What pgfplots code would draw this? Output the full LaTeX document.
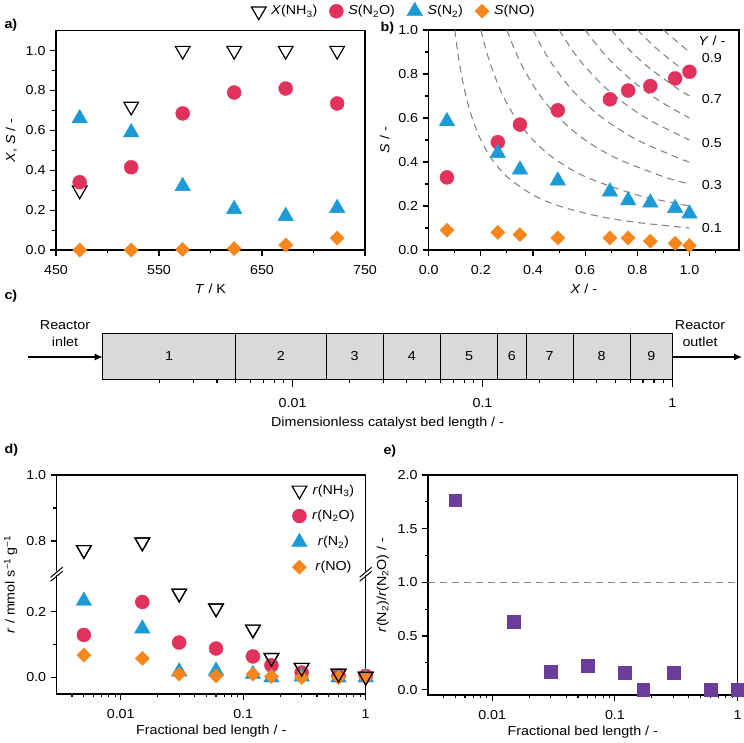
\documentclass[border=0pt]{standalone}
\usepackage{pgfplots}
\pgfplotsset{compat=1.18}
\usepackage{fontspec}
\setmainfont[FakeStretch=1.1]{Liberation Sans}
\usetikzlibrary{arrows.meta}

\definecolor{cNtwoO}{HTML}{E0325A}
\definecolor{cNtwo}{HTML}{1C9AD6}
\definecolor{cNO}{HTML}{F7861D}
\definecolor{cratio}{HTML}{6A3D9A}
\definecolor{bedgray}{HTML}{D9D9D9}
\definecolor{isogray}{HTML}{858585}

\newcommand{\fs}{\fontsize{13}{15}\selectfont}

\pgfplotsset{
  panel/.style={
    scale only axis, clip=false, anchor=south west,
    axis line style={line width=1.1pt},
    tick align=outside, tick pos=left,
    major tick length=6pt, minor tick length=3.5pt,
    tick style={black, line width=1.1pt},
    /pgf/number format/assume math mode=true,
    tick label style={font=\fs},
    xticklabel style={yshift=-5pt},
    label style={font=\fs},
    legend style={font=\fs, draw=none, fill=none},
  },
  onedec/.style={/pgf/number format/.cd, fixed, fixed zerofill, precision=1},
  mNHthree/.style={only marks, mark=triangle, mark size=8.5pt,
    mark options={rotate=180, draw=black, line width=1.2pt, fill=none}},
  mNtwoO/.style={only marks, mark=*, mark size=7pt,
    mark options={draw=cNtwoO, fill=cNtwoO}},
  mNtwo/.style={only marks, mark=triangle*, mark size=9pt,
    mark options={draw=cNtwo, fill=cNtwo}},
  mNO/.style={only marks, mark=square*, mark size=5pt,
    mark options={rotate=45, draw=cNO, fill=cNO}},
  iso/.style={isogray, line width=1.1pt, dash pattern=on 7pt off 5pt, smooth},
}

\begin{document}
\fs
\begin{tikzpicture}
\useasboundingbox (0pt,0pt) rectangle (744pt,743pt);

% ---------------- a) conversion and selectivity vs temperature
\begin{axis}[panel, at={(56pt,493pt)}, width=309pt, height=219.3pt,
  xmin=450, xmax=750, ymin=0, ymax=1.1,
  xtick={450,550,650,750}, minor xtick={500,600,700},
  ytick={0,0.2,0.4,0.6,0.8,1.0}, minor ytick={0.1,0.3,0.5,0.7,0.9},
  yticklabel style={onedec},
  xlabel={\textit{T} / K}, ylabel={\textit{X}, \textit{S} / -},
  legend columns=4,
  legend style={at={(1.094,1.09)}, anchor=center,
    /tikz/every odd column/.append style={column sep=3pt},
    /tikz/every even column/.append style={column sep=10pt}},
]
\addplot[mNHthree] coordinates {(473,0.30) (523,0.72) (573,1.0) (623,1.0) (673,1.0) (723,1.0)};
\addlegendentry{\textit{X}(NH\textsubscript{3})}
\addplot[mNtwoO] coordinates {(473,0.34) (523,0.415) (573,0.685) (623,0.79) (673,0.81) (723,0.735)};
\addlegendentry{\textit{S}(N\textsubscript{2}O)}
\addplot[mNtwo] coordinates {(473,0.66) (523,0.59) (573,0.32) (623,0.205) (673,0.17) (723,0.21)};
\addlegendentry{\textit{S}(N\textsubscript{2})}
\addplot[mNO] coordinates {(473,0.0) (523,0.0) (573,0.003) (623,0.007) (673,0.025) (723,0.06)};
\addlegendentry{\textit{S}(NO)}
\end{axis}

% ---------------- b) selectivity vs conversion with iso-yield lines
\begin{axis}[panel, at={(428.7pt,493pt)}, width=310.3pt, height=220pt,
  xmin=0, xmax=1.19, ymin=0, ymax=1,
  xtick={0,0.2,0.4,0.6,0.8,1.0}, minor xtick={0.1,0.3,0.5,0.7,0.9,1.1},
  ytick={0,0.2,0.4,0.6,0.8,1.0}, minor ytick={0.1,0.3,0.5,0.7,0.9},
  xticklabel style={onedec}, yticklabel style={onedec},
  xlabel={\textit{X} / -}, ylabel={\textit{S} / -},
]
% iso-yield lines Y = X S
\addplot[iso] coordinates {(0.1,1) (0.11,0.9091) (0.12,0.8333) (0.135,0.7407) (0.15,0.6667) (0.17,0.5882) (0.2,0.5) (0.24,0.4167) (0.3,0.3333) (0.4,0.25) (0.5,0.2) (0.65,0.1538) (0.8,0.125) (1.0,0.1)};
\addplot[iso] coordinates {(0.2,1) (0.22,0.9091) (0.24,0.8333) (0.27,0.7407) (0.3,0.6667) (0.34,0.5882) (0.4,0.5) (0.48,0.4167) (0.6,0.3333) (0.8,0.25) (1.0,0.2)};
\addplot[iso] coordinates {(0.3,1) (0.33,0.9091) (0.36,0.8333) (0.405,0.7407) (0.45,0.6667) (0.51,0.5882) (0.6,0.5) (0.72,0.4167) (0.9,0.3333) (1.0,0.3)};
\addplot[iso] coordinates {(0.4,1) (0.44,0.9091) (0.48,0.8333) (0.54,0.7407) (0.6,0.6667) (0.68,0.5882) (0.8,0.5) (0.96,0.4167) (1.0,0.4)};
\addplot[iso] coordinates {(0.5,1) (0.55,0.9091) (0.6,0.8333) (0.675,0.7407) (0.75,0.6667) (0.85,0.5882) (1.0,0.5)};
\addplot[iso] coordinates {(0.6,1) (0.66,0.9091) (0.72,0.8333) (0.81,0.7407) (0.9,0.6667) (1.0,0.6)};
\addplot[iso] coordinates {(0.7,1) (0.77,0.9091) (0.84,0.8333) (0.945,0.7407) (1.0,0.7)};
\addplot[iso] coordinates {(0.8,1) (0.88,0.9091) (0.96,0.8333) (1.0,0.8)};
\addplot[iso] coordinates {(0.9,1) (0.99,0.9091) (1.0,0.9)};
\addplot[mNtwoO] coordinates {(0.07,0.33) (0.265,0.49) (0.35,0.57) (0.495,0.635) (0.695,0.685) (0.765,0.725) (0.85,0.745) (0.945,0.78) (1.0,0.81)};
\addplot[mNtwo] coordinates {(0.07,0.585) (0.265,0.44) (0.35,0.365) (0.495,0.315) (0.695,0.265) (0.765,0.225) (0.85,0.215) (0.945,0.19) (1.0,0.165)};
\addplot[mNO] coordinates {(0.07,0.09) (0.265,0.08) (0.35,0.07) (0.495,0.055) (0.695,0.055) (0.765,0.055) (0.85,0.04) (0.945,0.03) (1.0,0.02)};
\node[font=\fs] at (axis cs:1.086,0.951) {\textit{Y} / -};
\node[font=\fs] at (axis cs:1.086,0.871) {0.9};
\node[font=\fs] at (axis cs:1.086,0.686) {0.7};
\node[font=\fs] at (axis cs:1.086,0.488) {0.5};
\node[font=\fs] at (axis cs:1.086,0.295) {0.3};
\node[font=\fs] at (axis cs:1.086,0.099) {0.1};
\end{axis}

% ---------------- c) catalyst bed segments
\begin{axis}[at={(102.7pt,363.7pt)}, anchor=south west, scale only axis,
  width=569.7pt, height=46pt, xmode=log, xmin=0.001, xmax=1, ymin=0, ymax=1,
  axis y line=none, axis x line*=bottom, clip=false,
  axis line style={line width=1.1pt},
  tick align=outside, major tick length=8pt, minor tick length=4pt,
  tick style={black, line width=1.1pt},
  xtick={0.01,0.1,1}, xticklabels={0.01,0.1,1},
  minor xtick={0.002,0.003,0.004,0.005,0.006,0.007,0.008,0.009,0.02,0.03,0.04,0.05,0.06,0.07,0.08,0.09,0.2,0.3,0.4,0.5,0.6,0.7,0.8,0.9},
  tick label style={font=\fs}, xticklabel style={yshift=-7pt},
  label style={font=\fs},
  xlabel={Dimensionless catalyst bed length / -},
]
\addplot[fill=bedgray, draw=black, line width=1.1pt] coordinates {(0.001,0) (1,0) (1,1) (0.001,1)} -- cycle;
\addplot[black, line width=0.9pt] coordinates {(0.005,0) (0.005,1)};
\addplot[black, line width=0.9pt] coordinates {(0.015,0) (0.015,1)};
\addplot[black, line width=0.9pt] coordinates {(0.03,0) (0.03,1)};
\addplot[black, line width=0.9pt] coordinates {(0.06,0) (0.06,1)};
\addplot[black, line width=0.9pt] coordinates {(0.12,0) (0.12,1)};
\addplot[black, line width=0.9pt] coordinates {(0.17,0) (0.17,1)};
\addplot[black, line width=0.9pt] coordinates {(0.3,0) (0.3,1)};
\addplot[black, line width=0.9pt] coordinates {(0.6,0) (0.6,1)};
\node at (axis cs:0.00224,0.5) {1};
\node at (axis cs:0.00866,0.5) {2};
\node at (axis cs:0.0212,0.5) {3};
\node at (axis cs:0.0424,0.5) {4};
\node at (axis cs:0.0849,0.5) {5};
\node at (axis cs:0.1428,0.5) {6};
\node at (axis cs:0.2258,0.5) {7};
\node at (axis cs:0.4243,0.5) {8};
\node at (axis cs:0.7746,0.5) {9};
\end{axis}
\draw[-{Latex[length=8pt,width=7pt]}, line width=1.1pt] (27.7pt,386pt) -- (102.7pt,386pt);
\draw[-{Latex[length=8pt,width=7pt]}, line width=1.1pt] (672.4pt,386pt) -- (742pt,386pt);
\node[align=center, font=\fontsize{13}{16.7}\selectfont] at (65pt,409.7pt) {Reactor\\inlet};
\node[align=center, font=\fontsize{13}{16.7}\selectfont] at (700pt,409.7pt) {Reactor\\outlet};

% ---------------- d) rates along the bed (broken y axis)
\begin{axis}[panel, at={(56.7pt,49pt)}, width=309pt, height=219pt,
  xmode=log, xmin=0.003, xmax=1, ymin=-0.05, ymax=0.614,
  y filter/.expression={y>0.5 ? y-0.386 : y},
  xtick={0.01,0.1,1}, xticklabels={0.01,0.1,1},
  minor xtick={0.004,0.005,0.006,0.007,0.008,0.009,0.02,0.03,0.04,0.05,0.06,0.07,0.08,0.09,0.2,0.3,0.4,0.5,0.6,0.7,0.8,0.9},
  ytick={0,0.2,0.414,0.614}, yticklabels={0.0,0.2,0.8,1.0},
  minor ytick={0.1,0.514},
  xlabel={Fractional bed length / -}, xlabel style={yshift=3pt},
  ylabel={\textit{r} / mmol s\textsuperscript{−1}\,g\textsuperscript{−1}},
  legend style={at={(0.75,0.975)}, anchor=north west, row sep=9.5pt,
    /tikz/every odd column/.append style={column sep=3pt}},
]
\addplot[mNHthree] coordinates {(0.005,0.773) (0.015,0.796) (0.03,0.255) (0.06,0.21) (0.12,0.146) (0.17,0.06) (0.3,0.03) (0.6,0.012) (1,0.003)};
\addlegendentry{\textit{r}(NH\textsubscript{3})}
\addplot[mNtwoO] coordinates {(0.005,0.129) (0.015,0.229) (0.03,0.106) (0.06,0.088) (0.12,0.064) (0.17,0.037) (0.3,0.015) (0.6,0.005) (1,0.005)};
\addlegendentry{\textit{r}(N\textsubscript{2}O)}
\addplot[mNtwo] coordinates {(0.005,0.232) (0.015,0.148) (0.03,0.018) (0.06,0.02) (0.12,0.01) (0.17,0.0) (0.3,0.0025) (0.6,0.0) (1,0.0)};
\addlegendentry{\textit{r}(N\textsubscript{2})}
\addplot[mNO] coordinates {(0.005,0.068) (0.015,0.058) (0.03,0.01) (0.06,0.005) (0.12,0.01) (0.17,0.003) (0.3,0.0) (0.6,0.0) (1,0.0)};
\addlegendentry{\textit{r}(NO)}
\addplot[mNHthree, forget plot] coordinates {(0.005,0.773) (0.015,0.796) (0.03,0.255) (0.06,0.21) (0.12,0.146) (0.17,0.06) (0.3,0.03) (0.6,0.012) (1,0.003)};
% axis break marks
\fill[white] ([shift={(-6pt,-5pt)}]rel axis cs:0,0.547) -- ++(12pt,8pt) -- ++(0pt,4pt) -- ++(-12pt,-8pt) -- cycle;
\draw[line width=1pt] ([shift={(-6pt,-7pt)}]rel axis cs:0,0.547) -- ++(12pt,10pt);
\draw[line width=1pt] ([shift={(-6pt,-3pt)}]rel axis cs:0,0.547) -- ++(12pt,10pt);
\fill[white] ([shift={(-6pt,-5pt)}]rel axis cs:1,0.547) -- ++(12pt,8pt) -- ++(0pt,4pt) -- ++(-12pt,-8pt) -- cycle;
\draw[line width=1pt] ([shift={(-6pt,-7pt)}]rel axis cs:1,0.547) -- ++(12pt,10pt);
\draw[line width=1pt] ([shift={(-6pt,-3pt)}]rel axis cs:1,0.547) -- ++(12pt,10pt);
\end{axis}

% ---------------- e) rate ratio along the bed
\begin{axis}[panel, at={(428pt,48pt)}, width=309.7pt, height=220pt,
  xmode=log, xmin=0.003, xmax=1, ymin=-0.05, ymax=2,
  xtick={0.01,0.1,1}, xticklabels={0.01,0.1,1},
  minor xtick={0.004,0.005,0.006,0.007,0.008,0.009,0.02,0.03,0.04,0.05,0.06,0.07,0.08,0.09,0.2,0.3,0.4,0.5,0.6,0.7,0.8,0.9},
  ytick={0,0.5,1.0,1.5,2.0}, minor ytick={0.25,0.75,1.25,1.75},
  yticklabel style={onedec},
  xlabel={Fractional bed length / -}, xlabel style={yshift=3pt},
  ylabel={\textit{r}(N\textsubscript{2})/\textit{r}(N\textsubscript{2}O) / -},
]
\addplot[isogray, line width=1.1pt, dash pattern=on 7pt off 5pt] coordinates {(0.003,1) (1,1)};
\addplot[only marks, mark=square*, mark size=6.3pt, mark options={draw=cratio, fill=cratio}]
  coordinates {(0.005,1.765) (0.015,0.635) (0.03,0.165) (0.06,0.225) (0.12,0.16) (0.17,0.0) (0.3,0.16) (0.6,0.0) (1,0.0)};
\end{axis}

% panel letters
\node[anchor=west, font=\bfseries\fs] at (0pt,718pt) {a)};
\node[anchor=west, font=\bfseries\fs] at (376pt,714.7pt) {b)};
\node[anchor=west, font=\bfseries\fs] at (0pt,447pt) {c)};
\node[anchor=west, font=\bfseries\fs] at (0pt,293pt) {d)};
\node[anchor=west, font=\bfseries\fs] at (379pt,292pt) {e)};
\end{tikzpicture}
\end{document}
